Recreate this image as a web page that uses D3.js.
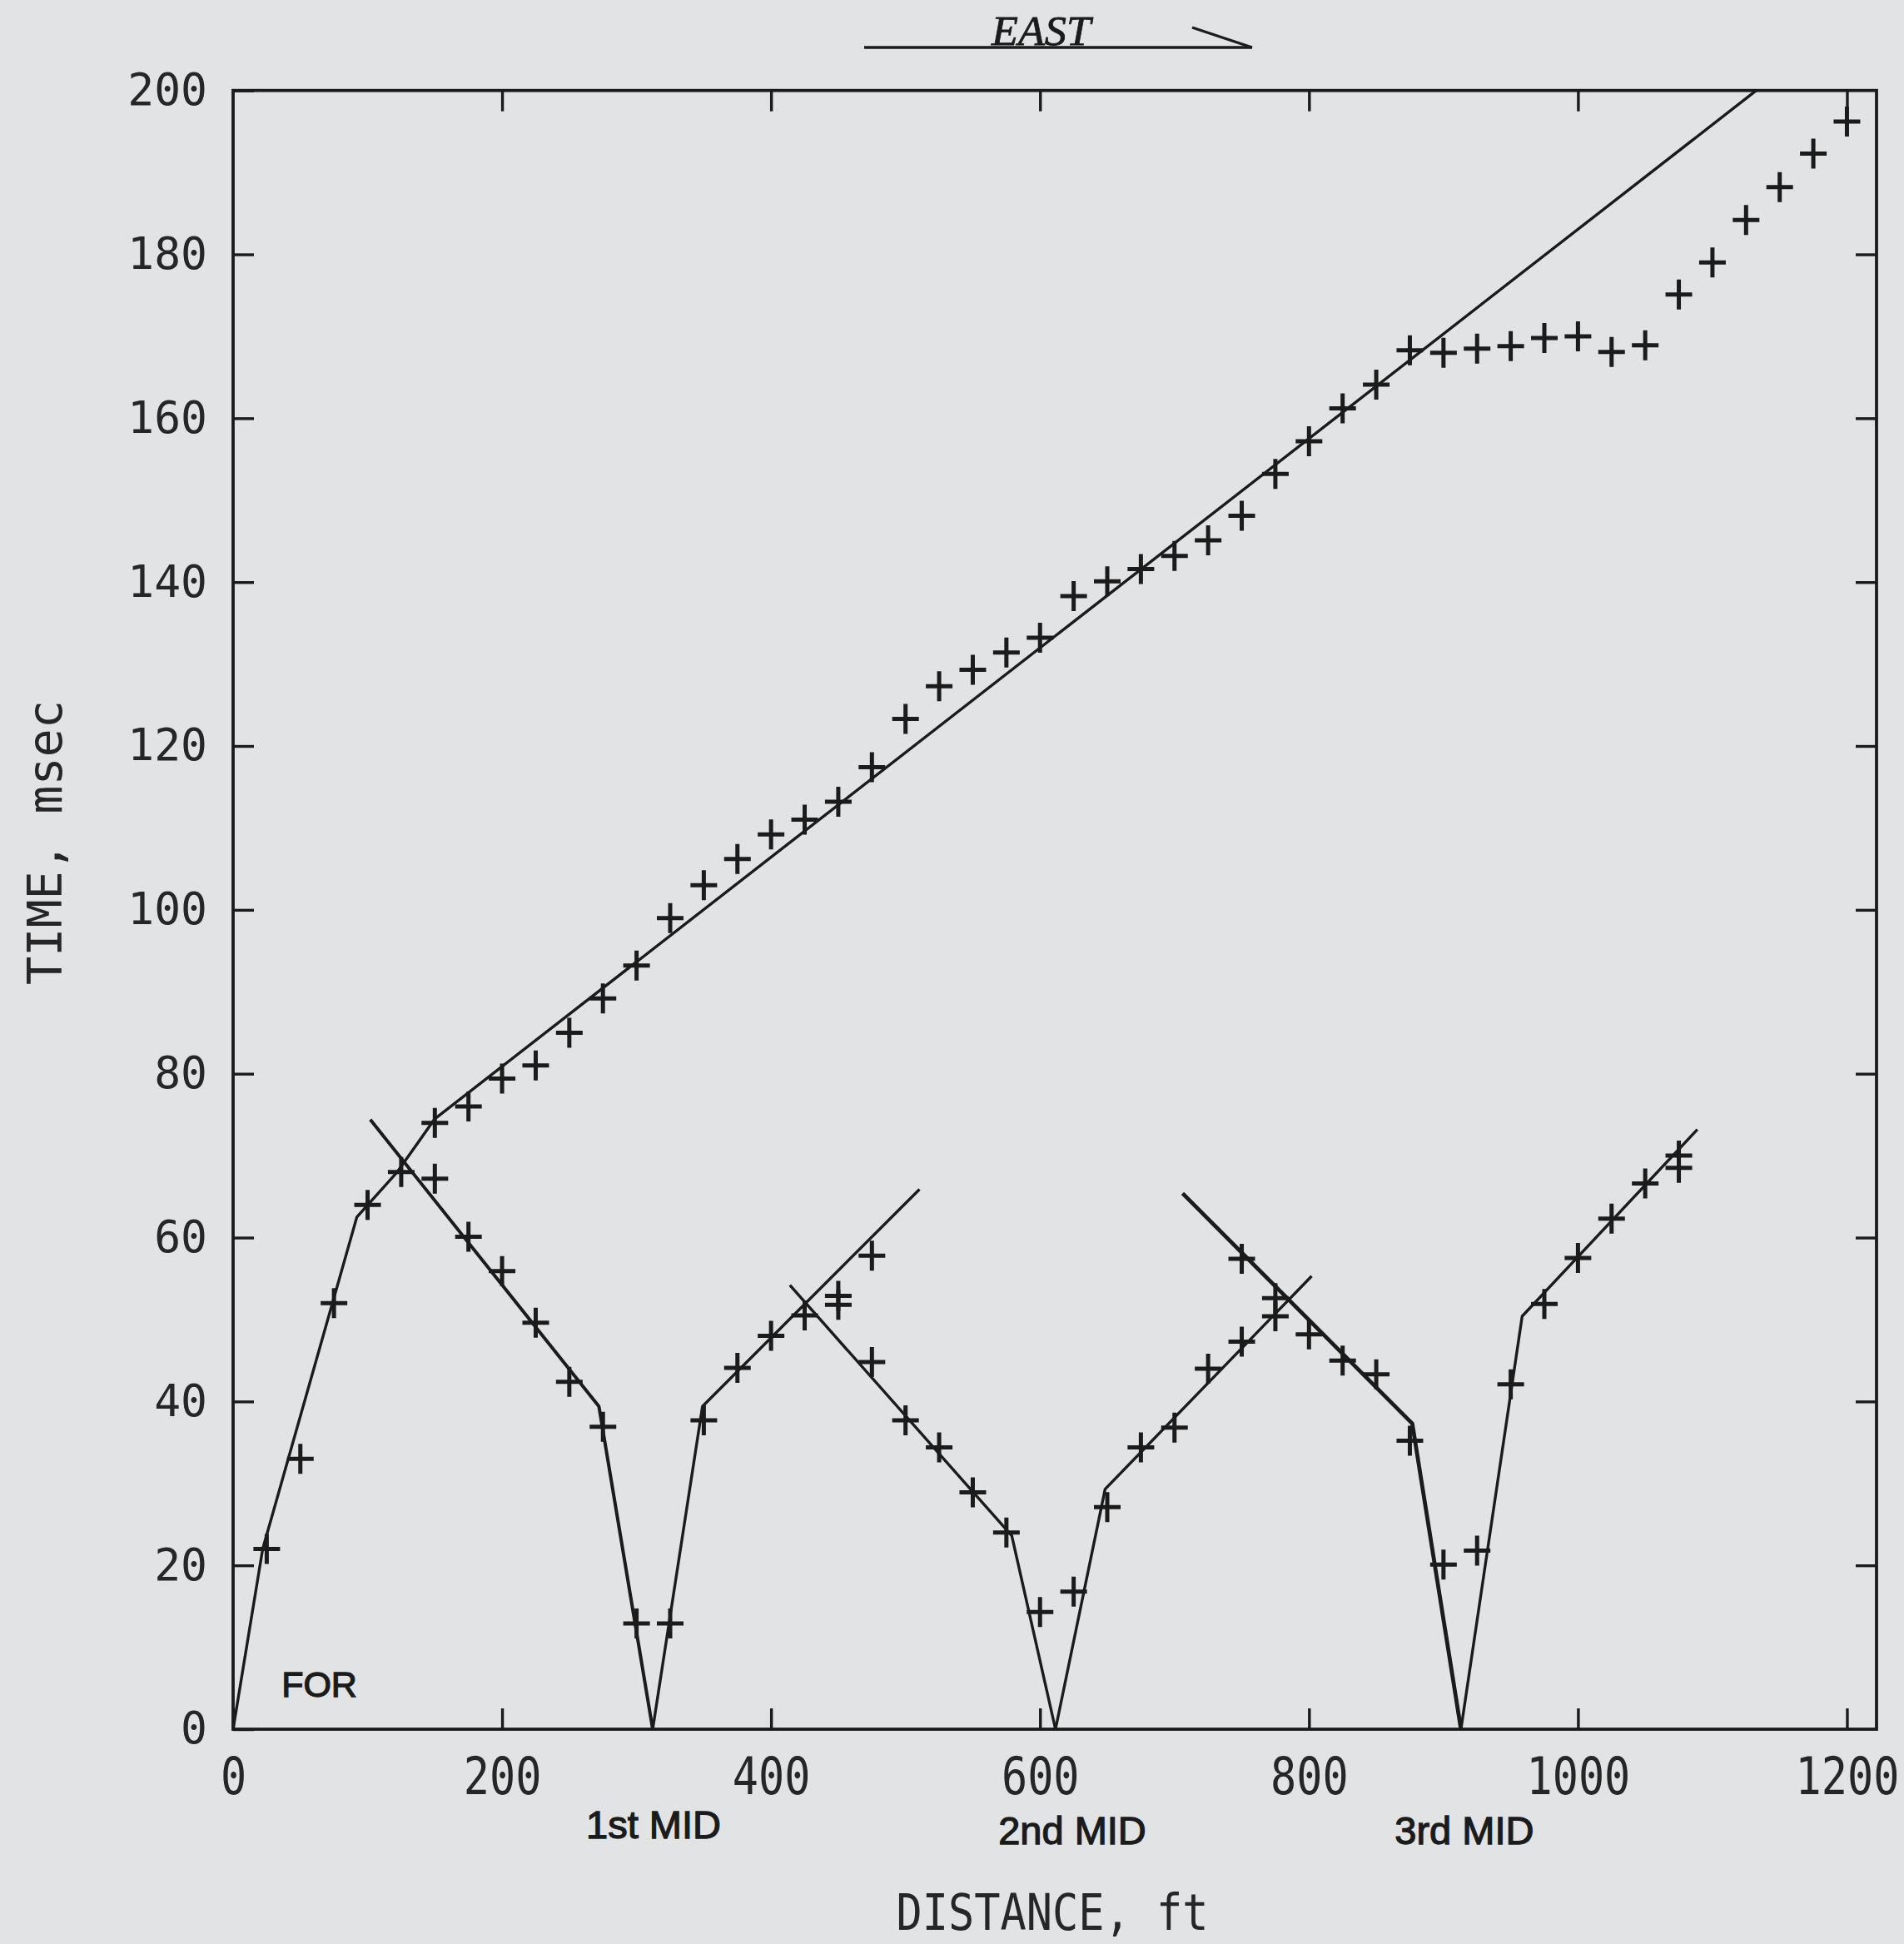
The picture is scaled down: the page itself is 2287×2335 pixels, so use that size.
<!DOCTYPE html>
<html>
<head>
<meta charset="utf-8">
<script src="https://cdn.jsdelivr.net/npm/d3@7"></script>
<style>
  html, body { margin: 0; padding: 0; background: #e2e3e4; }
  svg { display: block; }
</style>
</head>
<body>
<svg id="chart" width="2287" height="2335"></svg>
<script>
// ---- axis ticks -------------------------------------------------------
const distanceTicks = [0, 200, 400, 600, 800, 1000, 1200];      // ft
const timeTicks = [0, 20, 40, 60, 80, 100, 120, 140, 160, 180, 200]; // msec

// ---- picked first arrivals (+) ---------------------------------------
// shot at FOR, recorded eastward
const forDist = [25, 50, 75, 100, 125, 150, 175, 200, 225, 250, 275, 300, 325, 350, 375, 400,
  425, 450, 475, 500, 525, 550, 575, 600, 625, 650, 675, 700, 725, 750, 775, 800, 825, 850,
  875, 900, 925, 950, 975, 1000, 1025, 1050, 1075, 1100, 1125, 1150, 1175, 1200];
const forTime = [22, 33, 52, 64, 68, 74, 76, 79.4, 81, 85, 89.2, 93.2, 99, 103, 106.2, 109.2,
  111, 113.2, 117.4, 123.3, 127.3, 129.3, 131.4, 133.2, 138.3, 140.1, 141.6, 143.2, 145.1,
  148.1, 153.2, 157.2, 161.2, 164.1, 168.3, 168, 168.5, 168.8, 169.8, 170, 168.1, 168.9,
  175.1, 179, 184.2, 188.2, 192.3, 196.2];

// shot at 1st MID
const mid1RevDist = [150, 175, 200, 225, 250, 275, 300];
const mid1RevTime = [67.2, 60.1, 55.9, 49.6, 42.4, 36.9, 12.9];
const mid1FwdDist = [325, 350, 375, 400, 425, 450, 475];
const mid1FwdTime = [12.9, 37.7, 44.1, 48.0, 50.5, 52.9, 57.8];

// shot at 2nd MID
const mid2RevDist = [450, 475, 500, 525, 550, 575, 600];
const mid2RevTime = [51.8, 44.8, 37.7, 34.4, 28.9, 24.0, 14.3];
const mid2FwdDist = [625, 650, 675, 700, 725, 750, 775];
const mid2FwdTime = [16.8, 27.1, 34.4, 36.8, 44.0, 47.3, 50.4];

// shot at 3rd MID
const mid3RevDist = [750, 775, 800, 825, 850, 875, 900];
const mid3RevTime = [57.4, 52.6, 48.2, 45.0, 43.3, 35.2, 20.1];
const mid3FwdDist = [925, 950, 975, 1000, 1025, 1050, 1075, 1075];
const mid3FwdTime = [21.8, 42.1, 51.9, 57.5, 62.3, 66.6, 68.5, 70.0];

// ---- fitted travel-time segments --------------------------------------
const forFitDist = [0, 22, 92, 122, 150, 1132.6];
const forFitTime = [0, 22, 62.5, 68, 74.5, 200];
const mid1RevFitDist = [102, 272, 312];
const mid1RevFitTime = [74.4, 39.4, 0];
const mid1FwdFitDist = [312, 349, 510.4];
const mid1FwdFitTime = [0, 39.4, 65.9];
const mid2RevFitDist = [414, 579, 611.5];
const mid2RevFitTime = [54.2, 23.6, 0];
const mid2FwdFitDist = [611.5, 648.4, 802];
const mid2FwdFitTime = [0, 29.3, 55.3];
const mid3RevFitDist = [706, 876.8, 913];
const mid3RevFitTime = [65.4, 37.3, 0];
const mid3FwdFitDist = [913, 958.5, 1088.8];
const mid3FwdFitTime = [0, 50.4, 73.2];

// ---- shot point names --------------------------------------------------
const shotNames = ["FOR", "1st MID", "2nd MID", "3rd MID"];
const shotNameDist = [36, 312.6, 624, 915.5];

// ---------------------------------------------------------------------
const INK = "#1b1b1b";
const svg = d3.select("#chart");

const x = d3.scaleLinear().domain([0, 1222]).range([280, 2254]);
const y = d3.scaleLinear().domain([0, 200]).range([2077, 108.7]);

const zip = (a, b) => a.map((v, i) => [v, b[i]]);

// axes with inward ticks
const tickLen = 25;
const gAxes = svg.append("g").attr("color", INK);

const left = gAxes.append("g").attr("transform", `translate(${x(0)},0)`)
  .call(d3.axisLeft(y).tickValues(timeTicks).tickFormat(d3.format("d"))
    .tickSizeInner(-tickLen).tickSizeOuter(0).tickPadding(31));
const bottom = gAxes.append("g").attr("transform", `translate(0,${y(0)})`)
  .call(d3.axisBottom(x).tickValues(distanceTicks).tickFormat(d3.format("d"))
    .tickSizeInner(-tickLen).tickSizeOuter(0).tickPadding(0));
gAxes.append("g").attr("transform", `translate(0,${y(200)})`)
  .call(d3.axisTop(x).tickValues(distanceTicks.slice(1)).tickSizeInner(-tickLen).tickSizeOuter(0).tickFormat(""));
gAxes.append("g").attr("transform", `translate(${x(1222)},0)`)
  .call(d3.axisRight(y).tickValues(timeTicks.slice(1, -1)).tickSizeInner(-tickLen).tickSizeOuter(0).tickFormat(""));

gAxes.selectAll(".domain").remove();
gAxes.selectAll(".tick line").attr("stroke-width", 3.4);

left.selectAll("text")
  .attr("font-family", "'DejaVu Sans Mono', monospace")
  .attr("font-size", 53)
  .attr("fill", "#262626");

// distance labels: a tall, narrow plotter-style face
bottom.selectAll("text")
  .attr("font-family", "'DejaVu Sans Mono', monospace")
  .attr("font-size", 54)
  .attr("fill", "#262626")
  .attr("y", 0)
  .attr("transform", "translate(0,34) scale(0.96,1.15)");

// frame
svg.append("rect")
  .attr("x", x(0)).attr("y", y(200))
  .attr("width", x(1222) - x(0)).attr("height", y(0) - y(200))
  .attr("fill", "none").attr("stroke", INK).attr("stroke-width", 3.8);

// fitted lines
const line = d3.line().x(d => x(d[0])).y(d => y(d[1]));
const fits = [
  { pts: zip(forFitDist, forFitTime), w: 3.4 },
  { pts: zip(mid1RevFitDist, mid1RevFitTime), w: 4 },
  { pts: zip(mid1FwdFitDist, mid1FwdFitTime), w: 3.4 },
  { pts: zip(mid2RevFitDist, mid2RevFitTime), w: 3.4 },
  { pts: zip(mid2FwdFitDist, mid2FwdFitTime), w: 3.4 },
  { pts: zip(mid3RevFitDist, mid3RevFitTime), w: 4.8 },
  { pts: zip(mid3FwdFitDist, mid3FwdFitTime), w: 3.4 }
];
svg.append("g").selectAll("path").data(fits).join("path")
  .attr("d", d => line(d.pts))
  .attr("fill", "none")
  .attr("stroke", INK)
  .attr("stroke-width", d => d.w)
  .attr("stroke-linejoin", "round");

// arrival picks
const picks = [].concat(
  zip(forDist, forTime),
  zip(mid1RevDist, mid1RevTime), zip(mid1FwdDist, mid1FwdTime),
  zip(mid2RevDist, mid2RevTime), zip(mid2FwdDist, mid2FwdTime),
  zip(mid3RevDist, mid3RevTime), zip(mid3FwdDist, mid3FwdTime)
);
svg.append("g").selectAll("path").data(picks).join("path")
  .attr("transform", d => `translate(${x(d[0])},${y(d[1])})`)
  .attr("d", "M-16,0H16M0,-18V18")
  .attr("fill", "none")
  .attr("stroke", INK)
  .attr("stroke-width", 5);

// shot point names
const nameFont = "'Liberation Sans', Arial, sans-serif";
svg.append("text")
  .attr("x", x(shotNameDist[0])).attr("y", y(4))
  .attr("font-family", nameFont).attr("font-size", 43)
  .attr("fill", INK).attr("stroke", INK).attr("stroke-width", 1.3)
  .text(shotNames[0]);
svg.append("g").selectAll("text").data(shotNames.slice(1)).join("text")
  .attr("x", (d, i) => x(shotNameDist[i + 1]))
  .attr("y", (d, i) => i === 0 ? 2208 : 2215)
  .attr("text-anchor", "middle")
  .attr("font-family", nameFont).attr("font-size", 47)
  .attr("fill", INK).attr("stroke", INK).attr("stroke-width", 1.3)
  .text(d => d);

// axis titles
svg.append("text")
  .attr("transform", "translate(74,1012) rotate(-90)")
  .attr("text-anchor", "middle")
  .attr("font-family", "'DejaVu Sans Mono', monospace")
  .attr("font-size", 57)
  .attr("fill", "#262626")
  .attr("textLength", 342).attr("lengthAdjust", "spacingAndGlyphs")
  .text("TIME, msec");

svg.append("text")
  .attr("x", 1264).attr("y", 2318)
  .attr("text-anchor", "middle")
  .attr("font-family", "'DejaVu Sans Mono', monospace")
  .attr("font-size", 60)
  .attr("fill", "#262626")
  .attr("textLength", 375).attr("lengthAdjust", "spacingAndGlyphs")
  .text("DISTANCE, ft");

// direction marker above the plot
const east = svg.append("g").attr("stroke", INK).attr("stroke-width", 3.4);
east.append("line").attr("x1", 1038).attr("y1", 57).attr("x2", 1504).attr("y2", 57);
east.append("line").attr("x1", 1432).attr("y1", 33).attr("x2", 1504).attr("y2", 57);
svg.append("text")
  .attr("x", 1191).attr("y", 54)
  .attr("font-family", "'Liberation Serif', 'Times New Roman', serif")
  .attr("font-style", "italic")
  .attr("font-size", 50)
  .attr("fill", INK).attr("stroke", INK).attr("stroke-width", 0.8)
  .attr("textLength", 119).attr("lengthAdjust", "spacingAndGlyphs")
  .text("EAST");
</script>
</body>
</html>
